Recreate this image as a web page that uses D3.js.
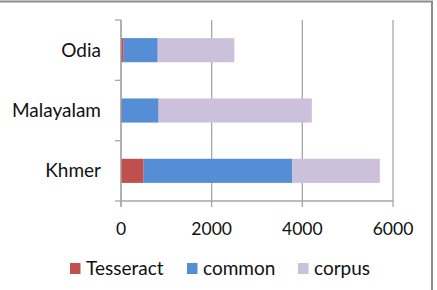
<!DOCTYPE html>
<html>
<head>
<meta charset="utf-8">
<script src="https://cdn.jsdelivr.net/npm/d3@7"></script>
<style>
  body { margin: 0; background: #fff; }
  svg { display: block; font-family: Lato, "Open Sans", sans-serif; }
</style>
</head>
<body>
<div id="chart"></div>
<script>
// data
var languages = ["Khmer", "Malayalam", "Odia"];
var seriesNames = ["Tesseract", "common", "corpus"];
var tesseract = [500, 20, 60];
var common = [3280, 810, 750];
var corpus = [1930, 3380, 1690];
var xTicks = [0, 2000, 4000, 6000];
var seriesColors = ["#c0504d", "#558ed5", "#ccc1da"];

var width = 437, height = 290;
var plot = {left: 121, right: 393, top: 20, bottom: 201};

var svg = d3.select("#chart").append("svg")
    .attr("width", width)
    .attr("height", height);

// outer frame
svg.append("rect")
    .attr("x", -2).attr("y", 1.5)
    .attr("width", 434).attr("height", 300)
    .attr("fill", "none")
    .attr("stroke", "#8c8c8c")
    .attr("stroke-width", 2);

var x = d3.scaleLinear().domain([0, 6000]).range([plot.left, plot.right]);
var y = d3.scaleBand().domain(languages)
    .range([plot.bottom, plot.top])
    .paddingInner(0.6).paddingOuter(0.3);

// vertical gridlines (with tick marks below the axis)
svg.append("g").selectAll("line")
    .data(xTicks)
    .join("line")
    .attr("x1", function(d) { return x(d); })
    .attr("x2", function(d) { return x(d); })
    .attr("y1", plot.top)
    .attr("y2", plot.bottom + 6)
    .attr("stroke", "#a6a6a6")
    .attr("stroke-width", 1.3);

// stack the series
var rows = languages.map(function(l, i) {
    return {lang: l, Tesseract: tesseract[i], common: common[i], corpus: corpus[i]};
});
var stacked = d3.stack().keys(seriesNames)(rows);

svg.append("g").selectAll("g")
    .data(stacked)
    .join("g")
    .attr("fill", function(d, i) { return seriesColors[i]; })
    .selectAll("rect")
    .data(function(d) { return d; })
    .join("rect")
    .attr("x", function(d) { return x(d[0]); })
    .attr("width", function(d) { return x(d[1]) - x(d[0]); })
    .attr("y", function(d) { return y(d.data.lang); })
    .attr("height", y.bandwidth());

// category axis line and tick marks
svg.append("line")
    .attr("x1", plot.left).attr("x2", plot.left)
    .attr("y1", plot.top).attr("y2", plot.bottom + 6)
    .attr("stroke", "#a6a6a6").attr("stroke-width", 1.3);

var step = y.step();
var catTicks = d3.range(languages.length + 1).map(function(i) { return plot.bottom - i * step; });
svg.append("g").selectAll("line")
    .data(catTicks)
    .join("line")
    .attr("x1", plot.left - 6).attr("x2", plot.left)
    .attr("y1", function(d) { return d; })
    .attr("y2", function(d) { return d; })
    .attr("stroke", "#a6a6a6").attr("stroke-width", 1.3);

// value axis line
svg.append("line")
    .attr("x1", plot.left).attr("x2", plot.right)
    .attr("y1", plot.bottom).attr("y2", plot.bottom)
    .attr("stroke", "#a6a6a6").attr("stroke-width", 1.3);

// x tick labels
svg.append("g").selectAll("text")
    .data(xTicks)
    .join("text")
    .attr("x", function(d) { return x(d); })
    .attr("y", 235)
    .attr("text-anchor", "middle")
    .style("font-size", "17.5px")
    .attr("fill", "#111")
    .text(function(d) { return d; });

// category labels
svg.append("g").selectAll("text")
    .data(languages)
    .join("text")
    .attr("x", 101)
    .attr("y", function(d) { return y(d) + y.bandwidth() / 2 + 6.5; })
    .attr("text-anchor", "end")
    .style("font-size", "19px")
    .attr("fill", "#111")
    .text(function(d) { return d; });

// legend
var legendX = [70, 187, 298];
var legend = svg.append("g").selectAll("g")
    .data(seriesNames)
    .join("g")
    .attr("transform", function(d, i) { return "translate(" + legendX[i] + ",263)"; });

legend.append("rect")
    .attr("width", 10.5).attr("height", 11)
    .attr("fill", function(d, i) { return seriesColors[i]; });

legend.append("text")
    .attr("x", 16)
    .attr("y", 12)
    .style("font-size", "19px")
    .attr("fill", "#111")
    .text(function(d) { return d; });
</script>
</body>
</html>
